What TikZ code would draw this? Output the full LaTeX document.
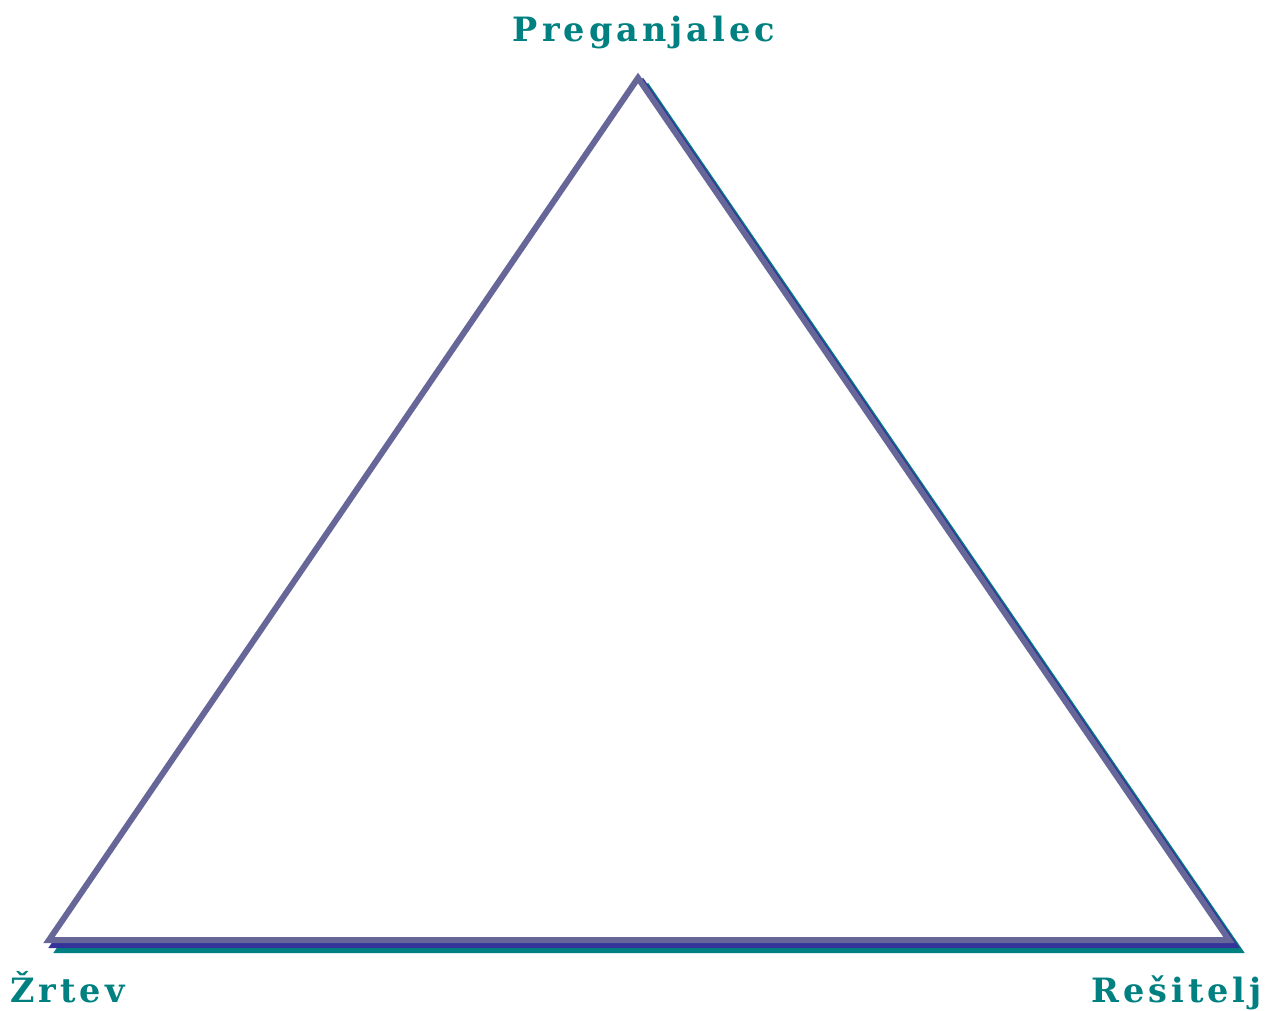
\documentclass[tikz,border=0pt]{standalone}
\usepackage{fontspec}
\usepackage{xcolor}
\newfontfamily\rolefont[LetterSpace=12]{DejaVu Serif}
\definecolor{roleteal}{RGB}{0, 128, 128}
\definecolor{edgeblue}{RGB}{51, 51, 153}
\definecolor{edgegrey}{RGB}{102, 102, 153}
\begin{document}
\begin{tikzpicture}[x=1pt, y=-1pt,
        edge/.style={line width=6pt, line join=miter},
        rolelabel/.style={text=roleteal, font=\rolefont\bfseries\fontsize{33.5}{36}\selectfont, inner sep=0pt}]
        \useasboundingbox (0,0) rectangle (1275,1011);

        \coordinate (top) at (638,78);
        \coordinate (left) at (49,940);
        \coordinate (right) at (1229,940);

        % shadows below, main outline (filled white) on top
        \draw [edge, draw=roleteal] ([shift={(10,10)}]top) -- ([shift={(10,10)}]right) -- ([shift={(10,10)}]left) -- cycle;
        \draw [edge, draw=edgeblue] ([shift={(5,5)}]top) -- ([shift={(5,5)}]right) -- ([shift={(5,5)}]left) -- cycle;
        \draw [edge, draw=edgegrey, fill=white] (top) -- (right) -- (left) -- cycle;

        \node [rolelabel, anchor=base] (persecutor) at (644,42) {Preganjalec};
        \node [rolelabel, anchor=base west] (victim) at (10,1002) {Žrtev};
        \node [rolelabel, anchor=base east] (rescuer) at (1262,1002) {Rešitelj};
    \end{tikzpicture}
\end{document}
